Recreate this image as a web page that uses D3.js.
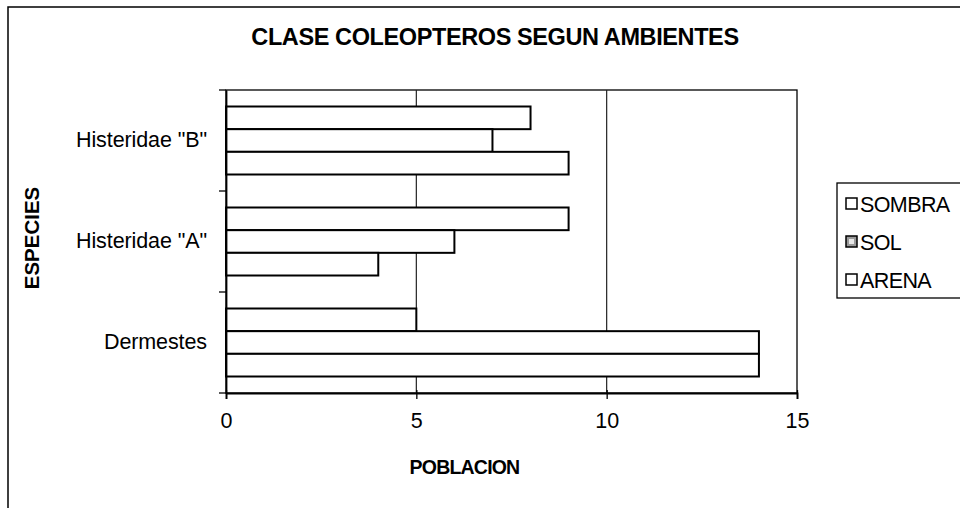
<!DOCTYPE html>
<html>
<head>
<meta charset="utf-8">
<script src="https://cdn.jsdelivr.net/npm/d3@7"></script>
<style>
  html, body { margin: 0; padding: 0; background: #fff; }
  svg { display: block; font-family: "Liberation Sans", Arial, sans-serif; }
</style>
</head>
<body>
<svg id="chart" width="960" height="508"></svg>
<script>
// ---- data ----
const categories = ['Dermestes', 'Histeridae "A"', 'Histeridae "B"'];
const seriesNames = ['SOMBRA', 'SOL', 'ARENA'];
const sombra = [5, 9, 8];
const sol = [14, 6, 7];
const arena = [14, 4, 9];
const xTicks = [0, 5, 10, 15];
const titleText = 'CLASE COLEOPTEROS SEGUN AMBIENTES';
const xTitle = 'POBLACION';
const yTitle = 'ESPECIES';

const seriesValues = [sombra, sol, arena];

// ---- layout ----
const svg = d3.select('#chart');
const plot = { left: 226, right: 797, top: 90, bottom: 393 };

// outer chart border (extends beyond the visible frame)
svg.append('rect')
  .attr('x', 8).attr('y', 7).attr('width', 1100).attr('height', 700)
  .attr('fill', 'none').attr('stroke', '#000').attr('stroke-width', 1.5);

const x = d3.scaleLinear().domain([0, 15]).range([plot.left, plot.right]);
const y0 = d3.scaleBand().domain(categories).range([plot.bottom, plot.top]).padding(0);
const groupPad = 16.5;
const y1 = d3.scaleBand().domain(seriesNames).range([groupPad, y0.bandwidth() - groupPad]).padding(0);

// plot area border
svg.append('rect')
  .attr('x', plot.left).attr('y', plot.top)
  .attr('width', plot.right - plot.left).attr('height', plot.bottom - plot.top)
  .attr('fill', '#fff').attr('stroke', '#000').attr('stroke-width', 1.3);

// gridlines
svg.append('g').selectAll('line').data(xTicks.filter(t => t > 0 && t < 15)).join('line')
  .attr('x1', d => x(d)).attr('x2', d => x(d))
  .attr('y1', plot.top).attr('y2', plot.bottom)
  .attr('stroke', '#222').attr('stroke-width', 1.2);

// bars
const bars = [];
categories.forEach((c, ci) => {
  seriesNames.forEach((s, si) => bars.push({ cat: c, series: s, value: seriesValues[si][ci] }));
});
svg.append('g').selectAll('rect').data(bars).join('rect')
  .attr('x', x(0))
  .attr('y', d => y0(d.cat) + y1(d.series))
  .attr('width', d => x(d.value) - x(0))
  .attr('height', y1.bandwidth())
  .attr('fill', '#fff')
  .attr('stroke', '#000').attr('stroke-width', 2);

// x axis
const xAxis = d3.axisBottom(x).tickValues(xTicks).tickSize(6).tickPadding(14).tickFormat(d3.format('d'));
const gx = svg.append('g').attr('transform', `translate(0,${plot.bottom})`).call(xAxis);
gx.select('.domain').attr('stroke', '#000').attr('stroke-width', 1.8);
gx.selectAll('.tick line').attr('stroke', '#000').attr('stroke-width', 1.3).attr('y1', -3);
gx.selectAll('.tick text').attr('font-size', 21.5).attr('fill', '#000')
  .attr('font-family', '"Liberation Sans", Arial, sans-serif');

// y axis
const yAxis = d3.axisLeft(y0).tickSize(0).tickPadding(19);
const gy = svg.append('g').attr('transform', `translate(${plot.left},0)`).call(yAxis);
gy.select('.domain').attr('stroke', '#000').attr('stroke-width', 1.8);
gy.selectAll('.tick text').attr('font-size', 21.5).attr('fill', '#000')
  .attr('letter-spacing', '-0.1px')
  .attr('font-family', '"Liberation Sans", Arial, sans-serif');
// category boundary ticks
const boundaries = categories.map(c => y0(c)).concat([plot.bottom]);
svg.append('g').selectAll('line').data(boundaries).join('line')
  .attr('x1', plot.left - 7).attr('x2', plot.left)
  .attr('y1', d => d).attr('y2', d => d)
  .attr('stroke', '#000').attr('stroke-width', 1.3);

// title
svg.append('text')
  .attr('x', 495).attr('y', 45)
  .attr('text-anchor', 'middle')
  .attr('font-size', 23.5).attr('font-weight', 'bold')
  .attr('letter-spacing', '-0.4px')
  .text(titleText);

// x title
svg.append('text')
  .attr('x', (plot.left + plot.right) / 2 - 47).attr('y', 474)
  .attr('text-anchor', 'middle')
  .attr('font-size', 19.5).attr('font-weight', 'bold')
  .attr('letter-spacing', '-0.8px')
  .text(xTitle);

// y title
svg.append('text')
  .attr('transform', `translate(39,238) rotate(-90)`)
  .attr('text-anchor', 'middle')
  .attr('font-size', 20.5).attr('font-weight', 'bold')
  .text(yTitle);

// legend
const legend = svg.append('g');
legend.append('rect')
  .attr('x', 837).attr('y', 183).attr('width', 200).attr('height', 115)
  .attr('fill', '#fff').attr('stroke', '#000').attr('stroke-width', 1.3);
const legendY = d3.scalePoint().domain(seriesNames).range([204, 280]);
const items = legend.selectAll('g.item').data(seriesNames).join('g')
  .attr('class', 'item')
  .attr('transform', d => `translate(846,${legendY(d)})`);
items.append('rect')
  .attr('x', 0).attr('y', -6).attr('width', 11).attr('height', 11)
  .attr('fill', d => d === 'SOL' ? '#9a9a9a' : '#fff')
  .attr('stroke', '#000').attr('stroke-width', 1.5);
items.filter(d => d === 'SOL').append('rect')
  .attr('x', 3).attr('y', -3).attr('width', 5).attr('height', 5)
  .attr('fill', '#e8e8e8');
items.append('text')
  .attr('x', 14).attr('y', 0).attr('dy', '0.36em')
  .attr('font-size', 21.5).attr('letter-spacing', '-0.6px')
  .text(d => d);
</script>
</body>
</html>
